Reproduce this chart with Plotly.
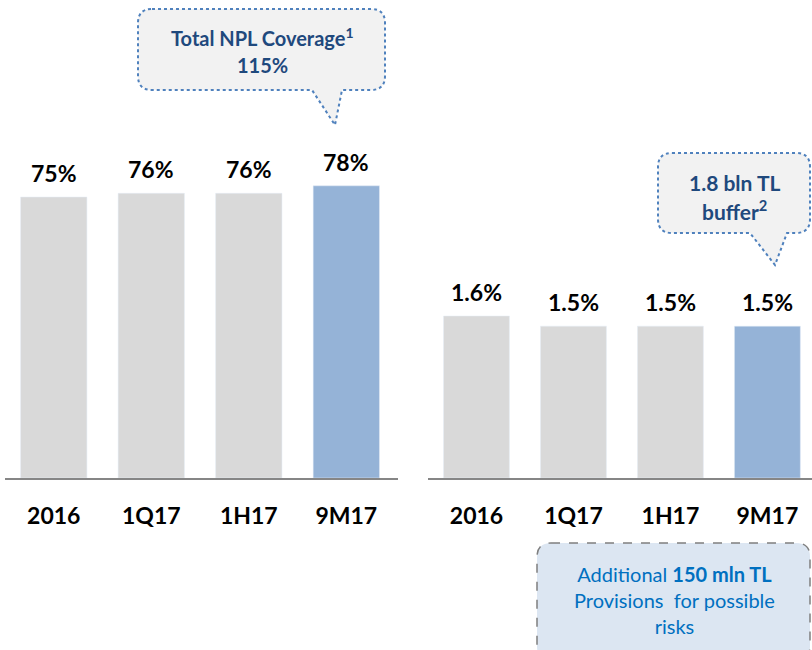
import plotly.graph_objects as go

W, H = 812, 650

periods = ["2016", "1Q17", "1H17", "9M17"]
coverage = [75, 76, 76, 78]          # left chart, %
cost_of_risk = [1.6, 1.5, 1.5, 1.5]  # right chart, %
cov_labels = ["75%", "76%", "76%", "78%"]
cor_labels = ["1.6%", "1.5%", "1.5%", "1.5%"]

grey = "#d9d9d9"
blue = "#95b3d7"
bar_colors = [grey, grey, grey, blue]
navy = "#1f497d"


def px(x):
    return x / W


def py(y):
    return 1 - y / H


fig = go.Figure()
fig.add_trace(go.Bar(x=periods, y=coverage, marker_color=bar_colors,
                     xaxis="x", yaxis="y", showlegend=False, hoverinfo="skip"))
fig.add_trace(go.Bar(x=periods, y=cost_of_risk, marker_color=bar_colors,
                     xaxis="x2", yaxis="y2", showlegend=False, hoverinfo="skip"))

annotations = []
for i, (v, t) in enumerate(zip(coverage, cov_labels)):
    annotations.append(dict(x=i, y=v, xref="x", yref="y", text=f"<b>{t}</b>", showarrow=False,
                            xanchor="center", yanchor="bottom", yshift=8,
                            font=dict(size=23, color="black", family="Lato")))
for i, (v, t) in enumerate(zip(cost_of_risk, cor_labels)):
    annotations.append(dict(x=i, y=v, xref="x2", yref="y2", text=f"<b>{t}</b>", showarrow=False,
                            xanchor="center", yanchor="bottom", yshift=8,
                            font=dict(size=23, color="black", family="Lato")))


def rounded_box(x0, y0, x1, y1, r, tail=None):
    # pixel coords -> svg path in paper coords; tail = (xa, tipx, tipy, xb) on bottom edge
    pts = []
    pts.append(f"M{px(x0 + r)},{py(y0)}")
    pts.append(f"L{px(x1 - r)},{py(y0)}")
    pts.append(f"Q{px(x1)},{py(y0)} {px(x1)},{py(y0 + r)}")
    pts.append(f"L{px(x1)},{py(y1 - r)}")
    pts.append(f"Q{px(x1)},{py(y1)} {px(x1 - r)},{py(y1)}")
    if tail:
        xa, tx, ty, xb = tail
        pts.append(f"L{px(xb)},{py(y1)}")
        pts.append(f"L{px(tx)},{py(ty)}")
        pts.append(f"L{px(xa)},{py(y1)}")
    pts.append(f"L{px(x0 + r)},{py(y1)}")
    pts.append(f"Q{px(x0)},{py(y1)} {px(x0)},{py(y1 - r)}")
    pts.append(f"L{px(x0)},{py(y0 + r)}")
    pts.append(f"Q{px(x0)},{py(y0)} {px(x0 + r)},{py(y0)}")
    pts.append("Z")
    return " ".join(pts)


shapes = [
    dict(type="path", xref="paper", yref="paper",
         path=rounded_box(138, 9, 385, 90, 14, tail=(312, 335, 125, 342)),
         fillcolor="#f2f2f2", line=dict(color="#4f81bd", width=2, dash="dot")),
    dict(type="path", xref="paper", yref="paper",
         path=rounded_box(658, 153, 810, 233, 14, tail=(750, 775, 265, 787)),
         fillcolor="#f2f2f2", line=dict(color="#4f81bd", width=2, dash="dot")),
    dict(type="path", xref="paper", yref="paper",
         path=rounded_box(537, 543, 810, 660, 14),
         fillcolor="#dce6f2", line=dict(color="#7f7f7f", width=1.5, dash="dash")),
]


def note(x, y, text, size=17, color=navy):
    return dict(x=px(x), y=py(y), xref="paper", yref="paper", showarrow=False,
                xanchor="center", yanchor="middle", text=text, align="center",
                font=dict(size=size, color=color, family="Lato"))


annotations += [
    note(262, 37, "<b>Total NPL Coverage<sup>1</sup></b>", size=20),
    note(262, 65, "<b>115%</b>", size=20),
    note(734, 182, "<b>1.8 bln TL</b>", size=21),
    note(734, 210, "<b>buffer<sup>2</sup></b>", size=21),
    note(674, 600, "Additional <b>150 mln TL</b><br>Provisions  for possible<br>risks",
         size=20, color="#0070c0"),
]

axis_common = dict(showgrid=False, zeroline=False, showline=True, linecolor="#868686",
                   linewidth=2, ticks="", type="category",
                   tickfont=dict(size=23, color="black", family="Lato", weight="bold"),
                   ticklabelstandoff=16, fixedrange=True)

fig.update_layout(
    width=W, height=H,
    margin=dict(l=0, r=0, t=0, b=0),
    paper_bgcolor="white", plot_bgcolor="white",
    bargap=0.32,
    font=dict(family="Lato"),
    xaxis=dict(domain=[px(5), px(398)], anchor="y", range=[-0.5, 3.53], **axis_common),
    yaxis=dict(domain=[py(478), 1], range=[0, 478 / 3.746], visible=False, fixedrange=True),
    xaxis2=dict(domain=[px(428), 1], anchor="y2", range=[-0.5, 3.46], **axis_common),
    yaxis2=dict(domain=[py(478), 1], range=[0, 478 / 101.25], visible=False, fixedrange=True),
    shapes=shapes,
    annotations=annotations,
)

fig.write_html("out.html", config={"displayModeBar": False},
               post_script="document.body.style.margin='0';")
